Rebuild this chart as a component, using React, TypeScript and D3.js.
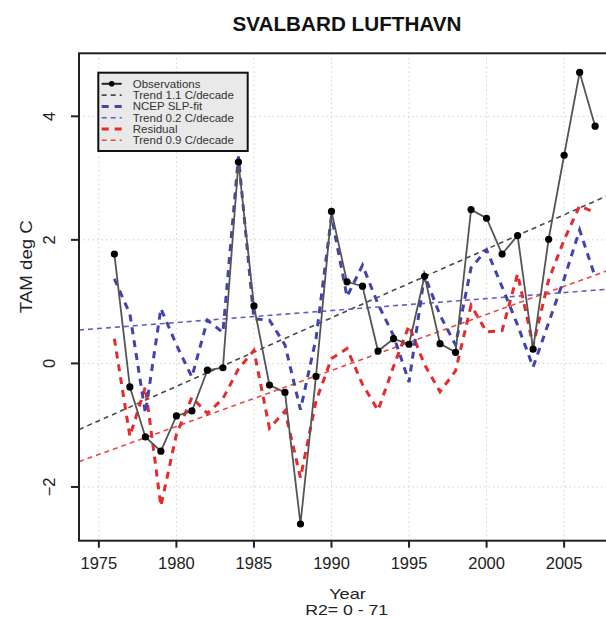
import React from "react";
import * as d3 from "d3";

const years = [1976,1977,1978,1979,1980,1981,1982,1983,1984,1985,1986,1987,1988,1989,1990,1991,1992,1993,1994,1995,1996,1997,1998,1999,2000,2001,2002,2003,2004,2005,2006,2007];
const observations = [1.77,-0.38,-1.19,-1.42,-0.85,-0.77,-0.11,-0.07,3.26,0.93,-0.35,-0.47,-2.6,-0.21,2.46,1.32,1.25,0.20,0.40,0.31,1.41,0.32,0.18,2.49,2.35,1.77,2.07,0.23,2.01,3.37,4.71,3.84];
const ncepFit = [1.37,0.80,-0.81,0.89,0.30,-0.22,0.70,0.50,3.35,0.72,0.70,0.30,-0.75,0.40,2.38,1.08,1.59,0.96,0.45,-0.30,1.43,0.78,0.30,1.55,1.84,1.24,0.62,-0.06,0.66,1.37,2.16,1.40];
const residual = [0.40,-1.18,-0.38,-2.31,-1.15,-0.55,-0.81,-0.57,-0.09,0.21,-1.05,-0.77,-1.85,-0.61,0.08,0.24,-0.34,-0.76,-0.05,0.61,-0.02,-0.46,-0.12,0.94,0.51,0.53,1.45,0.29,1.35,2.00,2.55,2.44];

const trendYears = [1973.72, 2008.28];
const trendObs = [-1.07, 2.77];
const trendFit = [0.54, 1.21];
const trendRes = [-1.59, 1.545];

const xTicks = [1975, 1980, 1985, 1990, 1995, 2000, 2005];
const yTicks = [-2, 0, 2, 4];
const xDomain = [1973.72, 2008.28];
const yDomain = [-2.87, 5.02];

const legendLabels = ["Observations", "Trend 1.1 C/decade", "NCEP SLP-fit", "Trend 0.2 C/decade", "Residual", "Trend 0.9 C/decade"];

const BLUE = "#4343ae";
const BLUE_T = "#6060c4";
const RED = "#e52b2b";
const RED_T = "#e84a4a";
const GRAY_T = "#4a4a4a";
const FONT = "'Liberation Sans', Arial, Helvetica, sans-serif";

export default function App() {
  const L = 79, R = 615, T = 53.3, B = 540.7;
  const x = d3.scaleLinear().domain(xDomain).range([L, R]);
  const y = d3.scaleLinear().domain(yDomain).range([B, T]);

  const line = d3.line<[number, number]>().x(d => x(d[0])).y(d => y(d[1]));
  const obsPts = years.map((yr, i) => [yr, observations[i]] as [number, number]);
  const fitPts = years.map((yr, i) => [yr, ncepFit[i]] as [number, number]);
  const resPts = years.map((yr, i) => [yr, residual[i]] as [number, number]);
  const tr = (v: number[]) => trendYears.map((yr, i) => [yr, v[i]] as [number, number]);

  const legendStyles = [
    { stroke: "#222", width: 2, dash: "", point: true },
    { stroke: GRAY_T, width: 1.6, dash: "5,4", point: false },
    { stroke: BLUE, width: 3, dash: "7,6", point: false },
    { stroke: BLUE_T, width: 1.6, dash: "5,4", point: false },
    { stroke: RED, width: 3, dash: "7,6", point: false },
    { stroke: RED_T, width: 1.6, dash: "5,4", point: false },
  ];

  return (
    <svg width={606} height={618} style={{ position: "absolute", left: 0, top: 0, background: "#fff" }} fontFamily={FONT}>
      <defs>
        <clipPath id="plotclip">
          <rect x={L} y={T} width={R - L} height={B - T} />
        </clipPath>
      </defs>
      <rect x={0} y={0} width={606} height={618} fill="#fff" />
      <text x={347} y={31} textAnchor="middle" fontSize={21} fontWeight="bold" fill="#111" textLength={229} lengthAdjust="spacingAndGlyphs">SVALBARD LUFTHAVN</text>

      {/* grid */}
      <g stroke="#cfcfcf" strokeWidth={1} strokeDasharray="1.5,3">
        {xTicks.map(t => <line key={"gx" + t} x1={x(t)} x2={x(t)} y1={T} y2={B} />)}
        {yTicks.map(t => <line key={"gy" + t} x1={L} x2={R} y1={y(t)} y2={y(t)} />)}
      </g>

      <g clipPath="url(#plotclip)" fill="none">
        <path d={line(tr(trendObs)) || ""} stroke={GRAY_T} strokeWidth={1.6} strokeDasharray="5,4" />
        <path d={line(tr(trendFit)) || ""} stroke={BLUE_T} strokeWidth={1.6} strokeDasharray="5,4" />
        <path d={line(tr(trendRes)) || ""} stroke={RED_T} strokeWidth={1.6} strokeDasharray="5,4" />
        <path d={line(resPts) || ""} stroke={RED} strokeWidth={3} strokeDasharray="7,6" />
        <path d={line(fitPts) || ""} stroke={BLUE} strokeWidth={3} strokeDasharray="7,6" />
        <path d={line(obsPts) || ""} stroke="#555" strokeWidth={1.8} />
        {obsPts.map((p, i) => <circle key={"p" + i} cx={x(p[0])} cy={y(p[1])} r={3.6} fill="#000" />)}
      </g>

      {/* box */}
      <rect x={L} y={T} width={R - L} height={B - T} fill="none" stroke="#222" strokeWidth={2} />

      {/* x axis */}
      <g>
        {xTicks.map(t => (
          <g key={"xt" + t}>
            <line x1={x(t)} x2={x(t)} y1={B} y2={B + 7} stroke="#222" strokeWidth={2} />
            <text x={x(t)} y={569} textAnchor="middle" fontSize={16.5} fill="#222">{t}</text>
          </g>
        ))}
      </g>
      {/* y axis */}
      <g>
        {yTicks.map(t => (
          <g key={"yt" + t}>
            <line x1={L - 8} x2={L} y1={y(t)} y2={y(t)} stroke="#222" strokeWidth={2} />
            <text transform={`translate(55,${y(t)}) rotate(-90)`} textAnchor="middle" fontSize={16.5} fill="#222">{t < 0 ? "\u2212" + Math.abs(t) : String(t)}</text>
          </g>
        ))}
      </g>

      <text transform="translate(31.5,266.7) rotate(-90)" textAnchor="middle" fontSize={16.5} fill="#222" textLength={93} lengthAdjust="spacingAndGlyphs">TAM deg C</text>
      <text x={347.5} y={599} textAnchor="middle" fontSize={14.5} fill="#222" textLength={36.7} lengthAdjust="spacingAndGlyphs">Year</text>
      <text x={346.7} y={615} textAnchor="middle" fontSize={14.5} fill="#222" textLength={83} lengthAdjust="spacingAndGlyphs">R2= 0 - 71</text>

      {/* legend */}
      <g>
        <rect x={98.3} y={72.7} width={149.4} height={78.3} fill="#e9e9e9" stroke="#111" strokeWidth={2} />
        {legendLabels.map((lab, i) => {
          const ly = 83.8 + i * 11.3;
          const s = legendStyles[i];
          return (
            <g key={"lg" + i}>
              <line x1={101.7} x2={121.7} y1={ly} y2={ly} stroke={s.stroke} strokeWidth={s.width} strokeDasharray={s.dash || undefined} />
              {s.point && <circle cx={111.7} cy={ly} r={2.8} fill="#000" />}
              <text x={132.7} y={ly + 4} fontSize={11.5} fill="#333">{lab}</text>
            </g>
          );
        })}
      </g>
    </svg>
  );
}
